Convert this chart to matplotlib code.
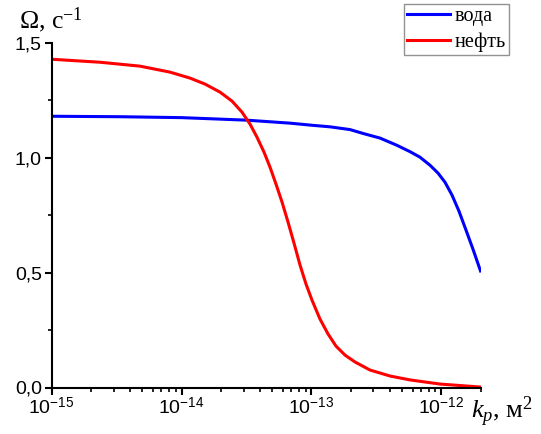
import numpy as np
import matplotlib
matplotlib.use("Agg")
import matplotlib.pyplot as plt
from matplotlib.ticker import FixedLocator, LogLocator, NullFormatter, FuncFormatter

plt.rcParams['mathtext.fontset'] = 'custom'
plt.rcParams['mathtext.rm'] = 'Liberation Serif'
plt.rcParams['mathtext.it'] = 'Liberation Serif:italic'
plt.rcParams['mathtext.sf'] = 'Liberation Sans'

# Data
k_water = [1e-15, 3.36e-15, 1e-14, 3.17e-14, 6.83e-14, 1e-13, 1.39e-13, 1.98e-13,
           2.5e-13, 3.37e-13, 4.53e-13, 5.73e-13, 6.84e-13, 8.17e-13, 9.41e-13,
           1.066e-12, 1.207e-12, 1.366e-12, 1.546e-12, 1.75e-12, 2e-12]
omega_water = [1.180, 1.178, 1.174, 1.163, 1.150, 1.141, 1.134, 1.122,
               1.105, 1.085, 1.054, 1.026, 1.002, 0.967, 0.933,
               0.893, 0.837, 0.767, 0.685, 0.602, 0.507]

k_oil = [1e-15, 2.355e-15, 4.78e-15, 8.14e-15, 1.161e-14, 1.514e-14, 1.976e-14,
         2.443e-14, 2.917e-14, 3.362e-14, 3.805e-14, 4.309e-14, 4.791e-14,
         5.329e-14, 5.929e-14, 6.594e-14, 7.334e-14, 8.157e-14, 9.073e-14,
         1.009e-13, 1.162e-13, 1.34e-13, 1.544e-13, 1.811e-13, 2.162e-13,
         2.82e-13, 4.02e-13, 5.73e-13, 9.75e-13, 2e-12]
omega_oil = [1.428, 1.415, 1.398, 1.372, 1.346, 1.320, 1.285,
             1.246, 1.198, 1.146, 1.089, 1.024, 0.959,
             0.885, 0.807, 0.720, 0.628, 0.533, 0.450,
             0.380, 0.298, 0.233, 0.180, 0.141, 0.111,
             0.076, 0.050, 0.033, 0.015, 0.002]

x_ticks = [1e-15, 1e-14, 1e-13, 1e-12]
y_ticks = [0.0, 0.5, 1.0, 1.5]
legend_labels = ['вода', 'нефть']

fig = plt.figure(figsize=(5.41, 4.34), dpi=100)
ax = fig.add_axes([51.7/541, 46.5/434, (480.5-51.7)/541, (387.5-42.7)/434])

ax.plot(k_water, omega_water, color='#0000ff', lw=2.2, label=legend_labels[0])
ax.plot(k_oil, omega_oil, color='#ff0000', lw=2.2, label=legend_labels[1])

ax.set_xscale('log')
ax.set_xlim(1e-15, 2e-12)
ax.set_ylim(0, 1.5)

ax.xaxis.set_major_locator(FixedLocator(x_ticks))
ax.xaxis.set_minor_locator(LogLocator(base=10, subs=np.arange(2, 10)))
ax.xaxis.set_minor_formatter(NullFormatter())
ax.xaxis.set_major_formatter(FuncFormatter(
    lambda v, p: r'$\mathsf{10}^{\mathsf{-%d}}$' % round(-np.log10(v))))

ax.yaxis.set_major_locator(FixedLocator(y_ticks))
ax.yaxis.set_minor_locator(FixedLocator([0.25, 0.75, 1.25]))
ax.yaxis.set_major_formatter(FuncFormatter(lambda v, p: ('%.1f' % v).replace('.', ',')))

for s in ['top', 'right']:
    ax.spines[s].set_visible(False)
for s in ['left', 'bottom']:
    ax.spines[s].set_linewidth(1.5)

ax.tick_params(which='major', direction='out', length=5, width=1.5, labelsize=14, pad=2)
ax.tick_params(which='minor', direction='out', length=3, width=1.2)
for lab in ax.get_xticklabels() + ax.get_yticklabels():
    lab.set_family('Liberation Sans')

fig.text(19/541, 1-28/434, 'Ω, с$^{-1}$', fontsize=18.5, family='Liberation Serif',
         ha='left', va='baseline')
fig.text(471/541, 1-418/434, '$k_p$, м$^{2}$', fontsize=19, family='Liberation Serif',
         ha='left', va='baseline')

leg = fig.legend(loc='upper right', bbox_to_anchor=(509/541, 1-4/434), borderaxespad=0,
                 prop={'family': 'Liberation Serif', 'size': 14.5}, frameon=True,
                 fancybox=False, handlelength=2.1, handletextpad=0.25, borderpad=0.15,
                 labelspacing=0.3)
leg.get_frame().set_edgecolor('#777777')
leg.get_frame().set_linewidth(1.0)

fig.savefig('out.png', dpi=100)
